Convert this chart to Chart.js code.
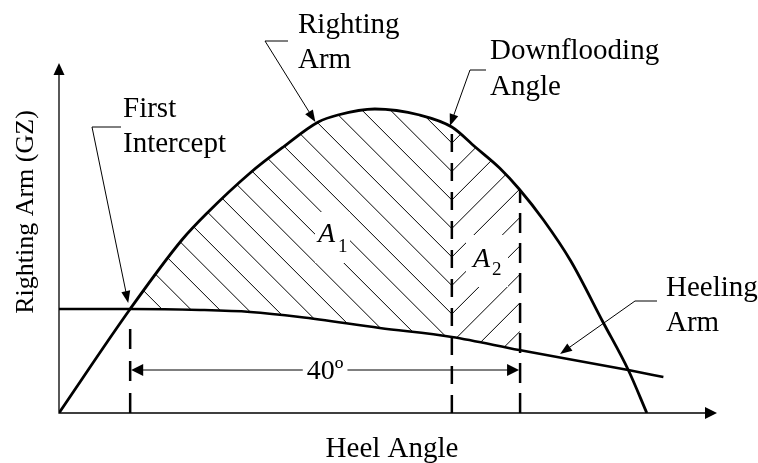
<!DOCTYPE html>
<html>
<head>
<meta charset="utf-8">
<script src="https://cdn.jsdelivr.net/npm/chart.js@4.4.1/dist/chart.umd.min.js"></script>
<style>
  html, body { margin: 0; padding: 0; background: #fff; }
  #stability { display: block; }
</style>
</head>
<body>
<canvas id="stability" width="758" height="463"></canvas>
<script>
// Righting arm curve (heel angle in degrees, GZ)
const rightingAngles = [0, 7.3, 12.6, 15.2, 19.6, 23.0, 26.6, 28.6, 32.4, 37.0, 40.3, 42.7, 45.2, 47.2, 49.7, 52.5, 55.8, 58.4, 60.3];
const rightingArm = [0, 1.04, 1.73, 2.00, 2.40, 2.66, 2.91, 2.98, 3.04, 2.98, 2.86, 2.66, 2.45, 2.24, 1.93, 1.52, 0.91, 0.43, 0];

// Heeling arm curve
const heelingAngles = [0, 7.3, 14.5, 19.6, 24.7, 32.9, 40.3, 47.2, 58.4, 62.0];
const heelingArm = [1.04, 1.04, 1.03, 1.01, 0.96, 0.85, 0.76, 0.63, 0.43, 0.36];

// Marked angles
const firstIntercept = 7.3;
const downfloodingAngle = 40.3;
const rangeDegrees = 40;
const rangeAngle = firstIntercept + rangeDegrees;

const FONT = '"Liberation Serif", "Times New Roman", serif';

function toPoints(xs, ys) {
    return xs.map((a, i) => ({ x: a, y: ys[i] }));
}

function valueAt(xs, ys, v) {
    for (let i = 1; i < xs.length; i++) {
        if (v <= xs[i]) {
            const t = (v - xs[i - 1]) / (xs[i] - xs[i - 1]);
            return ys[i - 1] + t * (ys[i] - ys[i - 1]);
        }
    }
    return ys[ys.length - 1];
}

// follow the curve exactly as Chart.js drew it (bezier control points)
function tracePath(ctx, chart, index) {
    const meta = chart.getDatasetMeta(index);
    if (meta.dataset.updateControlPoints) meta.dataset.updateControlPoints(chart.chartArea, 'x');
    const pts = meta.data;
    ctx.moveTo(pts[0].x, pts[0].y);
    for (let i = 1; i < pts.length; i++) {
        const a = pts[i - 1], b = pts[i];
        if (a.cp2x !== undefined && b.cp1x !== undefined) {
            ctx.bezierCurveTo(a.cp2x, a.cp2y, b.cp1x, b.cp1y, b.x, b.y);
        } else {
            ctx.lineTo(b.x, b.y);
        }
    }
    return pts;
}

function clipBetweenCurves(ctx, chart, x0, x1) {
    const area = chart.chartArea;
    ctx.beginPath();
    ctx.rect(x0, area.top - 20, x1 - x0, area.bottom - area.top + 20);
    ctx.clip();
    ctx.beginPath();
    tracePath(ctx, chart, 0);
    ctx.closePath();
    ctx.clip();
    ctx.beginPath();
    const hp = tracePath(ctx, chart, 1);
    ctx.lineTo(hp[hp.length - 1].x, area.top - 20);
    ctx.lineTo(hp[0].x, area.top - 20);
    ctx.closePath();
    ctx.clip();
}

function hatch(chart, x0, x1, dir, vertexX, vertexY, clearBox) {
    const ctx = chart.ctx;
    const spacing = 28.5;
    ctx.save();
    clipBetweenCurves(ctx, chart, x0, x1);
    ctx.strokeStyle = '#000';
    ctx.lineWidth = 1;
    ctx.beginPath();
    for (let k = -40; k <= 40; k++) {
        const c = vertexY - vertexX + k * spacing;
        if (dir > 0) {
            ctx.moveTo(x0, x0 + c);
            ctx.lineTo(x1, x1 + c);
        } else {
            const d = 2 * vertexX + c;
            ctx.moveTo(x0, d - x0);
            ctx.lineTo(x1, d - x1);
        }
    }
    ctx.stroke();
    if (clearBox) {
        ctx.fillStyle = '#fff';
        ctx.fillRect(clearBox[0], clearBox[1], clearBox[2] - clearBox[0], clearBox[3] - clearBox[1]);
    }
    ctx.restore();
}

function arrowHead(ctx, fx, fy, tx, ty, len, half) {
    const ang = Math.atan2(ty - fy, tx - fx);
    const bx = tx - len * Math.cos(ang), by = ty - len * Math.sin(ang);
    const px = -Math.sin(ang) * half, py = Math.cos(ang) * half;
    ctx.beginPath();
    ctx.moveTo(tx, ty);
    ctx.lineTo(bx + px, by + py);
    ctx.lineTo(bx - px, by - py);
    ctx.closePath();
    ctx.fill();
}

function leader(ctx, shelfEnd, knee, tip) {
    const ang = Math.atan2(tip[1] - knee[1], tip[0] - knee[0]);
    ctx.lineWidth = 1;
    ctx.beginPath();
    ctx.moveTo(shelfEnd, knee[1]);
    ctx.lineTo(knee[0], knee[1]);
    ctx.lineTo(tip[0] - 10 * Math.cos(ang), tip[1] - 10 * Math.sin(ang));
    ctx.stroke();
    arrowHead(ctx, knee[0], knee[1], tip[0], tip[1], 12, 4.5);
}

function textLines(ctx, lines, x, y, step) {
    lines.forEach((t, i) => ctx.fillText(t, x, y + i * step));
}

const diagramPlugin = {
    id: 'diagram',
    beforeDatasetsDraw(chart) {
        const ctx = chart.ctx;
        const xs = chart.scales.x, ys = chart.scales.y;
        const area = chart.chartArea;
        const xFI = xs.getPixelForValue(firstIntercept);
        const xDF = xs.getPixelForValue(downfloodingAngle);
        const xRG = xs.getPixelForValue(rangeAngle);

        // hatched areas A1 and A2
        hatch(chart, xFI, xDF, 1, xDF, 143, [315, 212, 350, 263]);
        hatch(chart, xDF, xRG, -1, xDF, 143, [466, 235, 508, 287]);

        // dashed angle markers
        ctx.save();
        ctx.strokeStyle = '#000';
        ctx.lineWidth = 2.5;
        ctx.setLineDash([20, 12]);
        const heelAtFI = ys.getPixelForValue(valueAt(heelingAngles, heelingArm, firstIntercept));
        ctx.beginPath();
        ctx.moveTo(xFI, area.bottom);
        ctx.lineTo(xFI, heelAtFI + 13);
        ctx.stroke();
        ctx.save();
        ctx.beginPath();
        tracePath(ctx, chart, 0);
        ctx.closePath();
        ctx.clip();
        ctx.setLineDash([18, 11]);
        ctx.beginPath();
        ctx.moveTo(xDF, area.bottom);
        ctx.lineTo(xDF, area.top);
        ctx.stroke();
        ctx.setLineDash([20, 10]);
        ctx.beginPath();
        ctx.moveTo(xRG, area.bottom);
        ctx.lineTo(xRG, area.top);
        ctx.stroke();
        ctx.restore();
        ctx.restore();
    },
    afterDatasetsDraw(chart) {
        const ctx = chart.ctx;
        const xs = chart.scales.x, ys = chart.scales.y;
        const area = chart.chartArea;
        const xFI = xs.getPixelForValue(firstIntercept);
        const xRG = xs.getPixelForValue(rangeAngle);

        ctx.save();
        ctx.strokeStyle = '#000';
        ctx.fillStyle = '#000';

        // axes with arrows
        ctx.lineWidth = 1.3;
        ctx.beginPath();
        ctx.moveTo(area.left, area.top + 8);
        ctx.lineTo(area.left, area.bottom);
        ctx.lineTo(area.right - 8, area.bottom);
        ctx.stroke();
        arrowHead(ctx, area.left, area.bottom, area.left, area.top, 12, 5.5);
        arrowHead(ctx, area.left, area.bottom, area.right, area.bottom, 12, 6);

        // dimension line for the 40 degree range
        const dimY = 370;
        ctx.font = '28px ' + FONT;
        ctx.textAlign = 'center';
        ctx.textBaseline = 'alphabetic';
        const label = rangeDegrees + 'º';
        const mid = (xFI + xRG) / 2;
        const w = ctx.measureText(label).width;
        ctx.lineWidth = 1;
        ctx.beginPath();
        ctx.moveTo(xFI + 10, dimY);
        ctx.lineTo(mid - w / 2 - 4, dimY);
        ctx.moveTo(mid + w / 2 + 4, dimY);
        ctx.lineTo(xRG - 10, dimY);
        ctx.stroke();
        arrowHead(ctx, mid, dimY, xFI + 1, dimY, 12, 6);
        arrowHead(ctx, mid, dimY, xRG - 1, dimY, 12, 6);
        ctx.fillText(label, mid, dimY + 9);

        // axis titles
        ctx.font = '29px ' + FONT;
        ctx.fillText('Heel Angle', (area.left + area.right) / 2 + 4, 457);
        ctx.font = '26px ' + FONT;
        ctx.save();
        ctx.translate(33, 212);
        ctx.rotate(-Math.PI / 2);
        ctx.fillText('Righting Arm (GZ)', 0, 0);
        ctx.restore();

        // callouts
        const px = (a, g) => [xs.getPixelForValue(a), ys.getPixelForValue(g)];
        ctx.font = '29px ' + FONT;
        ctx.textAlign = 'left';
        textLines(ctx, ['First', 'Intercept'], 123, 117, 35);
        leader(ctx, 121, [92, 127], px(firstIntercept - 0.2, 1.10));
        textLines(ctx, ['Righting', 'Arm'], 298, 33, 35);
        leader(ctx, 288, [265, 41], px(26.3, 2.91));
        textLines(ctx, ['Downflooding', 'Angle'], 490, 59, 36);
        leader(ctx, 486, [470, 70], px(downfloodingAngle - 0.2, 2.87));
        textLines(ctx, ['Heeling', 'Arm'], 666, 296, 35);
        leader(ctx, 657, [635, 301], px(51.4, 0.59));

        // area labels
        ctx.font = 'italic 28px ' + FONT;
        ctx.fillText('A', 318, 242);
        ctx.fillText('A', 473, 267);
        ctx.font = '19px ' + FONT;
        ctx.fillText('1', 338, 252);
        ctx.fillText('2', 492, 275);
        ctx.restore();
    }
};

new Chart(document.getElementById('stability'), {
    type: 'line',
    data: {
        datasets: [{
            label: 'Righting Arm',
            data: toPoints(rightingAngles, rightingArm),
            borderColor: '#000',
            borderWidth: 2.8,
            pointRadius: 0,
            cubicInterpolationMode: 'monotone',
            fill: false
        }, {
            label: 'Heeling Arm',
            data: toPoints(heelingAngles, heelingArm),
            borderColor: '#000',
            borderWidth: 2.5,
            pointRadius: 0,
            cubicInterpolationMode: 'monotone',
            fill: false
        }]
    },
    options: {
        responsive: false,
        animation: false,
        events: [],
        layout: { padding: { left: 59, right: 41, top: 63, bottom: 50 } },
        plugins: {
            legend: { display: false },
            tooltip: { enabled: false }
        },
        scales: {
            x: { type: 'linear', min: 0, max: 67.5, display: false },
            y: { type: 'linear', min: 0, max: 3.5, display: false }
        }
    },
    plugins: [diagramPlugin]
});
</script>
</body>
</html>
